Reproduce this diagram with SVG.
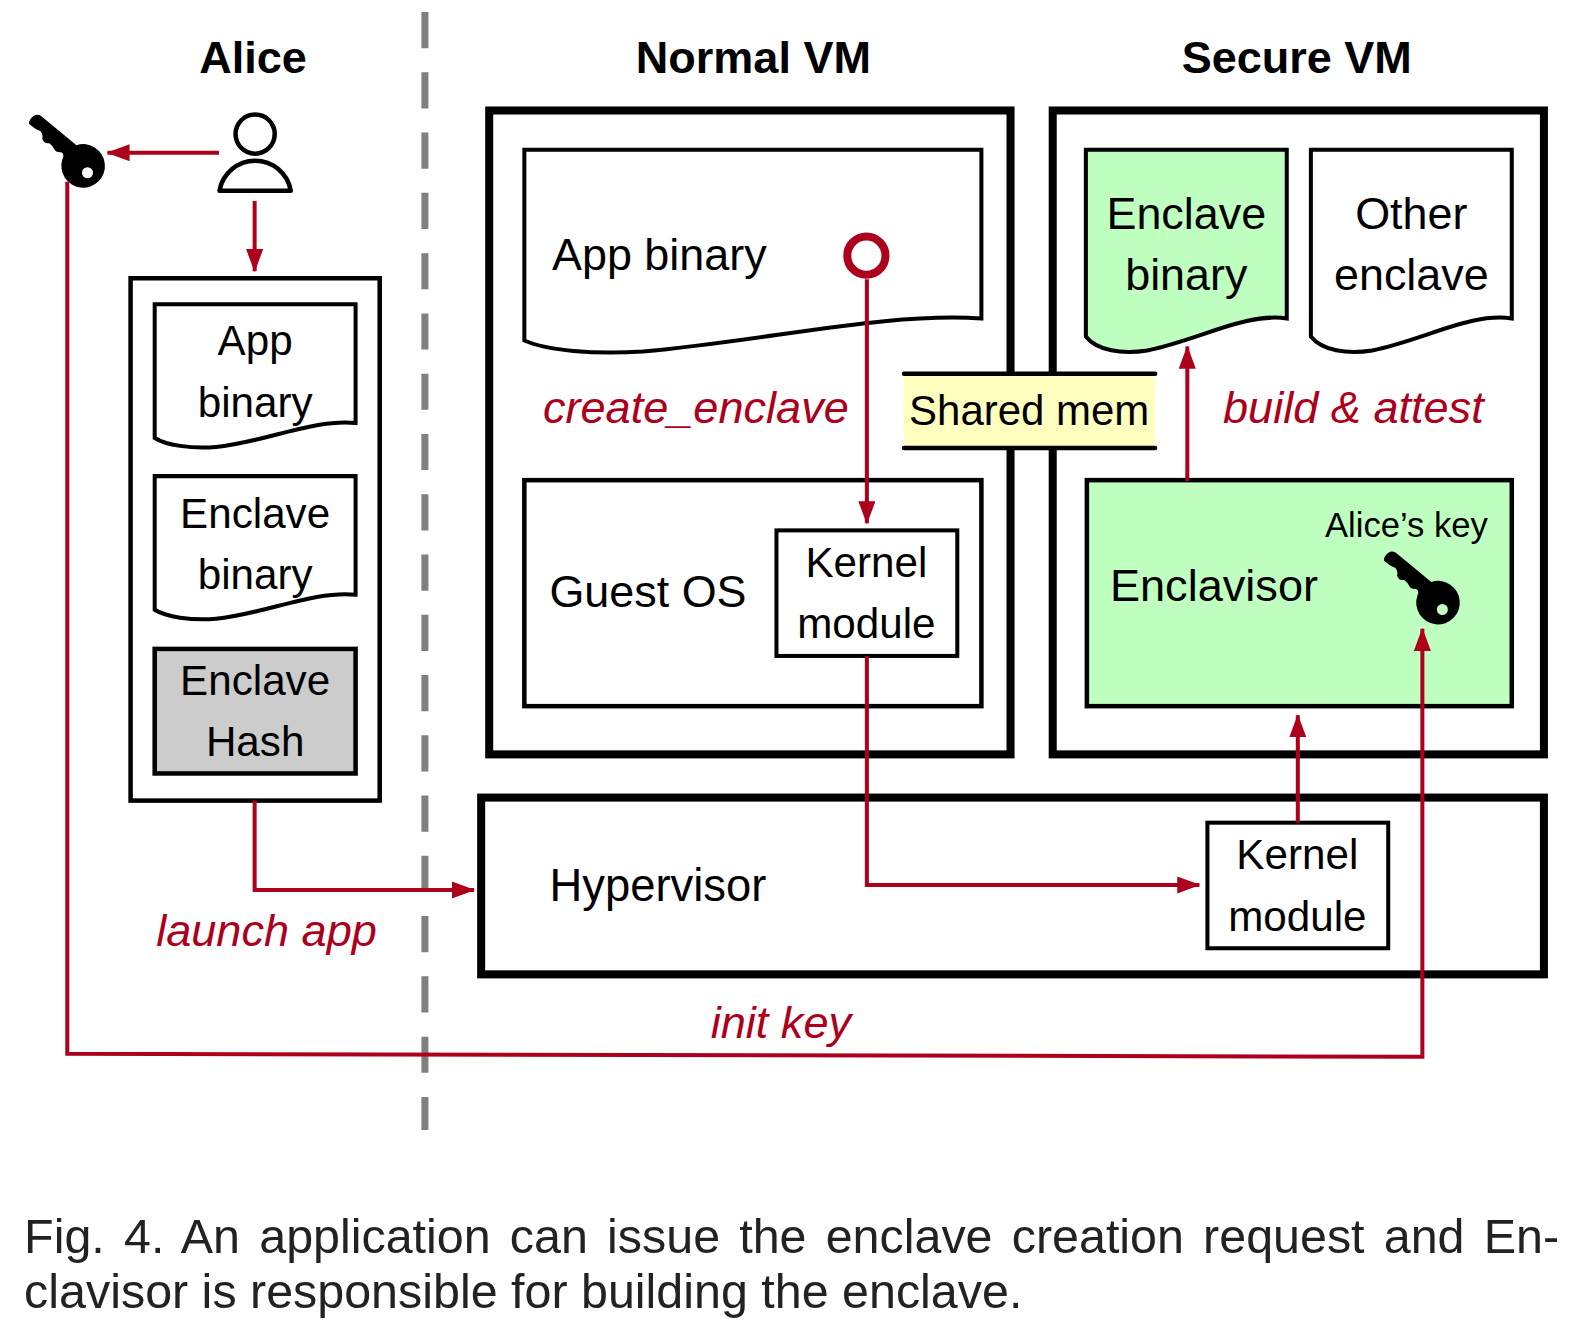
<svg xmlns="http://www.w3.org/2000/svg" width="1575" height="1333" viewBox="0 0 1575 1333">
<defs>
<marker id="ah" markerUnits="userSpaceOnUse" markerWidth="23" markerHeight="18" refX="22" refY="8.500" orient="auto"><path d="M0 0L23 8.500L0 17Z" fill="#ad001c"/></marker>
<path id="key" fill-rule="evenodd" d="M-54 -43Q-55 -46 -51 -50L-48 -52Q-44 -53 -41 -50L-7 -22A21.700 21.700 0 1 1 -21 -8L-20 -11Q-20 -15 -23 -15Q-28 -15 -29 -18Q-30 -21 -34 -24Q-39 -23 -41 -28Q-40 -33 -43 -36Q-46 -37 -49 -39ZM9.500 5.500A5.500 5.500 0 1 0 -1.500 5.500A5.500 5.500 0 1 0 9.500 5.500Z" fill="#000"/>
</defs>
<style>
text{font-family:"Liberation Sans",Arial,sans-serif;fill:#000}
.t{font-size:42px;text-anchor:middle}
.s{font-size:44.700px;text-anchor:middle}
.l{font-size:44.700px}
.h{font-size:44.800px;font-weight:700;text-anchor:middle}
.r{font-size:44.900px;font-style:italic;fill:#ad001c}
.c{font-size:48.200px;fill:#222}
.b{fill:none;stroke:#000;stroke-width:8}
.m{fill:#fff;stroke:#000;stroke-width:4}
.a{fill:none;stroke:#ad001c;stroke-width:4}
.e{marker-end:url(#ah)}
</style>
<rect width="1575" height="1333" fill="#fff"/>
<g transform="scale(1.0045)">
<g id="divider"><line x1="423" y1="12" x2="423" y2="1125" stroke="#808080" stroke-width="7" stroke-dasharray="36 24"/></g>
<g id="heading-alice"><text class="h" x="252" y="73">Alice</text></g>
<g id="heading-normal"><text class="h" x="750" y="73">Normal VM</text></g>
<g id="heading-secure"><text class="h" x="1291" y="73">Secure VM</text></g>
<g id="key-alice"><use href="#key" x="83.100" y="166.500"/></g>
<g id="person"><circle cx="254" cy="133.500" r="19.500" fill="#fff" stroke="#000" stroke-width="4.500"/><path d="M218.500 190A36 36 0 0 1 289.500 190Z" fill="#fff" stroke="#000" stroke-width="4.500" stroke-linejoin="round"/></g>
<g id="alice-box"><rect x="130" y="277" width="248" height="520" fill="#fff" stroke="#000" stroke-width="4.500"/></g>
<g id="alice-app"><path class="m" d="M154 303H354V421C310 417 265 440 215 445C190 447 165 443 154 436Z"/><text class="t" x="254" y="353">App</text><text class="t" x="254" y="415.500">binary</text></g>
<g id="alice-enclave"><path class="m" d="M154 474H354V592C310 588 265 611 215 616C190 618 165 614 154 607Z"/><text class="t" x="254" y="526">Enclave</text><text class="t" x="254" y="586.500">binary</text></g>
<g id="alice-hash"><rect x="154" y="646" width="200" height="124" fill="#ccc" stroke="#000" stroke-width="4.500"/><text class="t" x="254" y="692">Enclave</text><text class="t" x="254" y="753">Hash</text></g>
<g id="normal-vm"><rect x="487" y="110" width="519" height="641" class="b"/></g>
<g id="secure-vm"><rect x="1048" y="110" width="489" height="641" class="b"/></g>
<g id="app-binary"><path class="m" d="M522 149H977V317C880 311 770 338 640 350C590 353 545 349 522 339Z"/><text class="l" x="549.500" y="269">App binary</text></g>
<g id="enclave-binary"><path d="M1081 149H1281V317C1240 311 1195 338 1142 349C1117 353 1092 349 1081 335Z" fill="#bfffbf" stroke="#000" stroke-width="4"/><text class="s" x="1181" y="228">Enclave</text><text class="s" x="1181" y="289">binary</text></g>
<g id="other-enclave"><path class="m" d="M1305 149H1505V317C1464 311 1419 338 1366 349C1341 353 1316 349 1305 335Z"/><text class="s" x="1405" y="228">Other</text><text class="s" x="1405" y="289">enclave</text></g>
<g id="shared-mem"><rect x="900" y="372" width="250" height="74" fill="#ffffbf"/><path d="M900 372H1150M900 446H1150" stroke="#000" stroke-width="4.500" stroke-linecap="round"/><text x="905" y="423" font-size="41.800">Shared mem</text></g>
<g id="guest-os"><rect x="522" y="478" width="455" height="225" fill="#fff" stroke="#000" stroke-width="4.500"/><text class="l" x="547" y="604">Guest OS</text></g>
<g id="kernel-guest"><rect x="773" y="528" width="180" height="125" fill="#fff" stroke="#000" stroke-width="4"/><text class="t" x="862.500" y="574">Kernel</text><text class="t" x="862.500" y="635">module</text></g>
<g id="enclavisor"><rect x="1082" y="478" width="423" height="225" fill="#bfffbf" stroke="#000" stroke-width="4.500"/><text x="1105" y="598" font-size="44.900">Enclavisor</text><text x="1319" y="535" font-size="34.500">Alice’s key</text><use href="#key" x="1431.900" y="601.300"/></g>
<g id="hypervisor"><rect x="479" y="794" width="1058" height="176" class="b" fill="#fff"/><text x="547" y="896.500" font-size="45.200">Hypervisor</text></g>
<g id="kernel-hyper"><rect x="1202" y="819" width="180" height="125" fill="#fff" stroke="#000" stroke-width="4"/><text class="t" x="1291.500" y="865">Kernel</text><text class="t" x="1291.500" y="927">module</text></g>
<g id="connectors">
<path class="a e" d="M218 152H107"/>
<path class="a e" d="M253.500 200V270"/>
<circle cx="862.500" cy="254.500" r="19" fill="#fff" stroke="#ad001c" stroke-width="8"/>
<path class="a e" d="M863 278V521"/>
<path class="a e" d="M1182 479V345"/>
<path class="a e" d="M253.500 797V886H472"/>
<path class="a e" d="M863 653V881H1194"/>
<path class="a e" d="M1292 819V712"/>
<path class="a e" d="M67 181V1049L1416 1052V626"/>
</g>
<g id="labels">
<text class="r" x="540.500" y="421">create_enclave</text>
<text class="r" x="1217.500" y="421">build &amp; attest</text>
<text class="r" x="155.500" y="942">launch app</text>
<text class="r" x="707.500" y="1033">init key</text>
</g>
<g id="caption">
<text class="c" x="24" y="1247.500" word-spacing="5.700">Fig. 4. An application can issue the enclave creation request and En-</text>
<text class="c" x="24" y="1302.500">clavisor is responsible for building the enclave.</text>
</g>
</g>
</svg>
